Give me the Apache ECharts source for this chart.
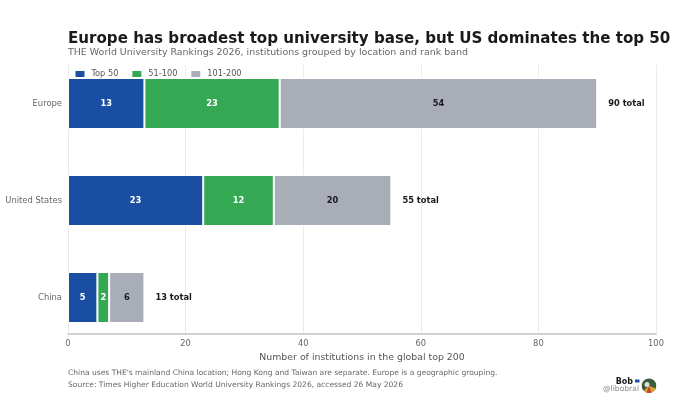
<!DOCTYPE html>
<html><head><meta charset="utf-8">
<style>html,body{margin:0;padding:0;background:#fff}#c{width:680px;height:408px}</style>
<script src="https://cdn.jsdelivr.net/npm/echarts@6/dist/echarts.min.js"></script>
</head><body><div id="c"></div>
<script>
const categories = ['Europe', 'United States', 'China'];
const top50 = [13, 23, 5];
const r51to100 = [23, 12, 2];
const r101to200 = [54, 20, 6];
const totals = [90, 55, 13];
const xTicks = [0, 20, 40, 60, 80, 100];
const F = 'DejaVu Sans';
const chart = echarts.init(document.getElementById('c'), null, {renderer: 'canvas'});
function seg(name, data, color, labelColor) {
  return {name, type: 'bar', stack: 'a', data, barWidth: 51, xAxisIndex: 1, yAxisIndex: 1,
    itemStyle: {color, borderColor: '#fff', borderWidth: 1},
    label: {show: true, position: 'inside', color: labelColor, fontFamily: F, fontSize: 8.3, fontWeight: 'bold'}};
}
chart.setOption({
  animation: false,
  backgroundColor: '#fff',
  title: [
    {text: 'Europe has broadest top university base, but US dominates the top 50', left: 68, top: 31.5, padding: 0,
     textStyle: {fontFamily: F, fontSize: 15.1, fontWeight: 'bold', color: '#1a1a1a'}},
    {text: 'THE World University Rankings 2026, institutions grouped by location and rank band', left: 68, top: 48, padding: 0,
     textStyle: {fontFamily: F, fontSize: 9.45, fontWeight: 'normal', color: '#666'}}
  ],
  legend: {left: 75.5, top: 70, padding: 0, itemWidth: 9, itemHeight: 6, itemGap: 14, icon: 'rect',
    itemStyle: {borderWidth: 0},
    data: ['Top 50', '51-100', '101-200'],
    textStyle: {fontFamily: F, fontSize: 8.2, color: '#555', padding: [0, 0, 0, 2]}},
  grid: [
    {left: 68, right: 24, top: 65, bottom: 74, outerBoundsMode: 'none'},
    {left: 68, right: 24, top: 55, bottom: 62, outerBoundsMode: 'none'}
  ],
  xAxis: [
    {type: 'value', gridIndex: 0, min: 0, max: 100, interval: 20,
     axisLine: {show: true, lineStyle: {color: '#c4c4c4', width: 1.5}}, axisTick: {show: false},
     splitLine: {show: true, lineStyle: {color: '#ebebeb', width: 1}},
     axisLabel: {fontFamily: F, fontSize: 8.3, color: '#666', margin: 6,
       customValues: xTicks, formatter: v => String(v)},
     name: 'Number of institutions in the global top 200', nameLocation: 'middle', nameGap: 18,
     nameTextStyle: {fontFamily: F, fontSize: 9.4, color: '#555'}},
    {type: 'value', gridIndex: 1, min: 0, max: 100, show: false}
  ],
  yAxis: [
    {type: 'value', gridIndex: 0, min: 0, max: 1, show: false},
    {type: 'category', gridIndex: 1, inverse: true, data: categories,
     axisLine: {show: false}, axisTick: {show: false}, splitLine: {show: false},
     axisLabel: {fontFamily: F, fontSize: 8.4, color: '#666', margin: 6}}
  ],
  series: [
    seg('Top 50', top50, '#1a4ea3', '#fff'),
    seg('51-100', r51to100, '#34a853', '#fff'),
    seg('101-200', r101to200, '#a8adb7', '#1a1a1a'),
    {name: 'total', type: 'scatter', xAxisIndex: 1, yAxisIndex: 1, symbolSize: 0, silent: true,
     itemStyle: {opacity: 1},
     data: totals.map((t, i) => [t, i]),
     label: {show: true, position: 'right', distance: 11, formatter: p => p.value[0] + ' total',
       fontFamily: F, fontSize: 8.3, fontWeight: 'bold', color: '#1a1a1a'}}
  ],
  graphic: [
    {type: 'text', left: 68, top: 369, style: {text: "China uses THE's mainland China location; Hong Kong and Taiwan are separate. Europe is a geographic grouping.", font: '7.55px "DejaVu Sans"', fill: '#666'}},
    {type: 'text', left: 68, top: 381.5, style: {text: 'Source: Times Higher Education World University Rankings 2026, accessed 26 May 2026', font: '7.55px "DejaVu Sans"', fill: '#666'}},
    {type: 'text', right: 47, top: 378, style: {text: 'Bob', font: 'bold 8px "DejaVu Sans"', fill: '#1a1a1a'}},
    {type: 'text', right: 41, top: 385, style: {text: '@libobral', font: '7.6px "DejaVu Sans"', fill: '#888'}},
    {type: 'rect', shape: {x: 635, y: 379.5, width: 4.5, height: 3}, style: {fill: '#1a4ea3'}},
    {type: 'sector', shape: {cx: 649, cy: 385.7, r: 7.3, r0: 0, startAngle: 0, endAngle: 6.3}, style: {fill: '#3d5a3a'}},
    {type: 'sector', shape: {cx: 649, cy: 385.7, r: 7.3, r0: 0, startAngle: 0.4, endAngle: 2.4}, style: {fill: '#d9a62e'}},
    {type: 'sector', shape: {cx: 649, cy: 385.7, r: 7.3, r0: 0, startAngle: 1.2, endAngle: 1.9}, style: {fill: '#c8443a'}},
    {type: 'circle', shape: {cx: 647, cy: 384.5, r: 2.5}, style: {fill: '#dfe3e0'}}
  ]
});
</script></body></html>
